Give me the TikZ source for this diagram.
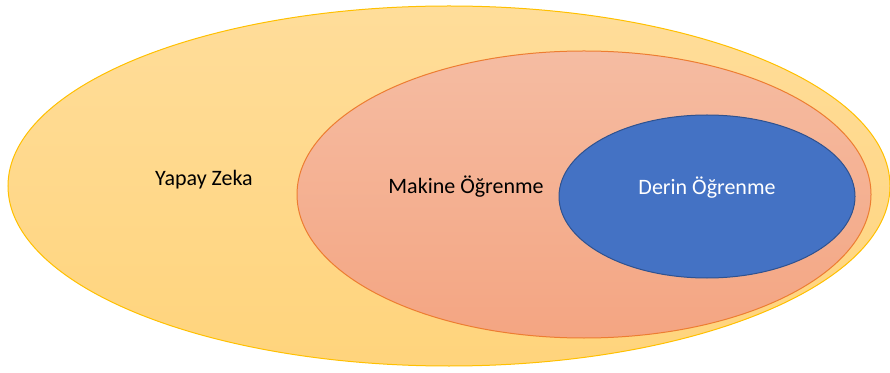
\documentclass[tikz,border=0pt]{standalone}
\usepackage{fontspec}
\setmainfont{Carlito}
\usetikzlibrary{shapes.geometric}

\definecolor{aiEdge}{HTML}{FFC000}
\definecolor{aiTop}{HTML}{FFDD9A}
\definecolor{aiBot}{HTML}{FFD47C}
\definecolor{mlEdge}{HTML}{ED7D31}
\definecolor{mlTop}{HTML}{F5BCA2}
\definecolor{mlBot}{HTML}{F4A582}
\definecolor{dlEdge}{HTML}{2F528F}
\definecolor{dlFill}{HTML}{4472C4}

\tikzset{
	blob/.style={ellipse, inner sep=0pt, line width=1pt},
	tag/.style={font=\fontsize{22}{26}\selectfont, inner sep=0pt}
}

\begin{document}
\begin{tikzpicture}[x=1pt, y=1pt]
	\useasboundingbox (0,0) rectangle (890,372);
	% the three nested sets
	\node[blob, draw=aiEdge, top color=aiTop, bottom color=aiBot,
		minimum width=882pt, minimum height=360pt] (ai) at (449,186) {};
	\node[blob, draw=mlEdge, top color=mlTop, bottom color=mlBot,
		minimum width=574pt, minimum height=287pt] (ml) at (584,177.5) {};
	\node[blob, draw=dlEdge, fill=dlFill,
		minimum width=296pt, minimum height=163pt] (dl) at (707,175.5) {};
	% names
	\node[tag] (ailabel) at (204,192) {Yapay Zeka};
	\node[tag] (mllabel) at (466,185) {Makine Öğrenme};
	\node[tag, text=white] (dllabel) at (707,184) {Derin Öğrenme};
\end{tikzpicture}
\end{document}
